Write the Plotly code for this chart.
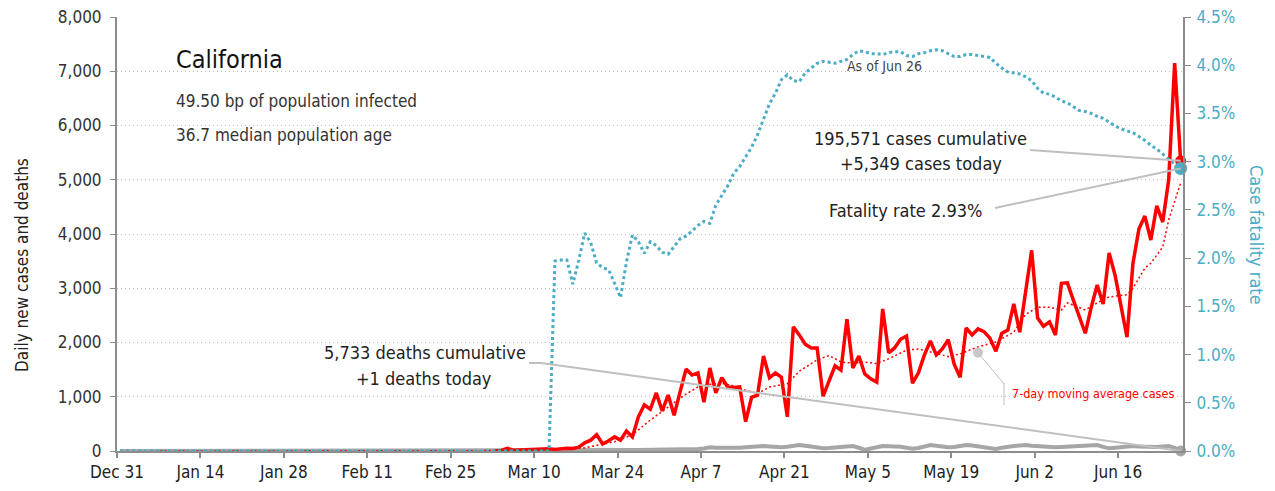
import plotly.graph_objects as go
import pandas as pd

# ---------------- data ----------------
origin = pd.Timestamp("2019-12-31")
tick_days = [0, 14, 28, 42, 56, 70, 84, 98, 112, 126, 140, 154, 168]
tick_labels = ["Dec 31", "Jan 14", "Jan 28", "Feb 11", "Feb 25", "Mar 10", "Mar 24",
               "Apr 7", "Apr 21", "May 5", "May 19", "Jun 2", "Jun 16"]

# daily new cases, starting at day 63 (days since Dec 31)
cases_start = 63
cases = [5, 10, 50, 15, 20, 25, 20, 30, 35, 40,
         30, 45, 50, 45, 70, 150, 200, 300, 130, 190,
         260, 200, 370, 260, 630, 850, 770, 1070, 740, 1030,
         660, 1090, 1510, 1400, 1440, 900, 1530, 1070, 1350, 1180,
         1170, 1180, 540, 990, 1030, 1750, 1350, 1440, 1360, 630,
         2290, 2140, 1970, 1900, 1900, 1010, 1270, 1570, 1490, 2430,
         1530, 1750, 1420, 1330, 1270, 2620, 1810, 1900, 2060, 2120,
         1250, 1440, 1770, 2030, 1770, 1880, 2050, 1600, 1360, 2270,
         2140, 2250, 2200, 2080, 1840, 2170, 2230, 2710, 2190, 2950,
         3700, 2450, 2300, 2380, 2140, 3090, 3100, 2780, 2470, 2170,
         2650, 3060, 2710, 3650, 3240, 2650, 2100, 3460, 4090, 4330,
         3890, 4520, 4220, 5000, 7150, 5349]

# 7-day moving average of cases (read at selected days)
ma_days = [6, 60, 70, 76, 78, 80, 83, 86, 89, 92,
           95, 97, 99, 101, 103, 105, 107, 109, 112, 114,
           117, 119, 121, 123, 125, 127, 129, 132, 134, 137,
           139, 141, 144, 147, 150, 152, 154, 156, 158, 159,
           162, 164, 166, 169, 170, 172, 173, 175, 176, 178]
ma_vals = [0, 5, 25, 40, 60, 100, 170, 300, 570, 810,
           1050, 1180, 1230, 1250, 1200, 1120, 1060, 1180, 1240, 1470,
           1680, 1760, 1640, 1620, 1640, 1610, 1700, 1860, 1880, 1800,
           1740, 1790, 1920, 2010, 2190, 2520, 2650, 2650, 2600, 2730,
           2600, 2730, 2840, 2880, 3000, 3370, 3460, 3760, 4260, 4940]

# daily deaths, starting at day 0
deaths = [0, 0, 0, 0, 0, 0, 0, 0, 0, 0,
          0, 0, 0, 0, 0, 0, 0, 0, 0, 0,
          0, 0, 0, 0, 0, 0, 0, 0, 0, 0,
          0, 0, 0, 0, 0, 0, 0, 0, 0, 0,
          0, 0, 0, 0, 0, 0, 0, 0, 0, 0,
          0, 0, 0, 0, 0, 0, 0, 0, 0, 0,
          0, 0, 0, 0, 0, 0, 0, 0, 0, 0,
          0, 0, 0, 0, 0, 0,
          2, 3, 5, 6, 8, 8, 10, 10, 12, 15,
          18, 20, 20, 22, 25, 25, 28, 30, 30, 32,
          34, 35, 45, 70, 62, 58, 55, 58, 62, 70,
          78, 85, 90, 82, 75, 68, 80, 95, 110, 95,
          75, 55, 50, 55, 62, 68, 80, 90, 60, 20,
          45, 75, 90, 88, 85, 80, 60, 40, 55, 85,
          110, 95, 80, 68, 75, 95, 110, 100, 85, 65,
          48, 37, 60, 80, 92, 100, 110, 95, 85, 75,
          68, 70, 75, 80, 80, 85, 95, 105, 110, 75,
          49, 60, 75, 85, 92, 85, 75, 68, 72, 82,
          92, 60, 1]

# case fatality rate (%), starting at day 0
cfr = [0, 0, 0, 0, 0, 0, 0, 0, 0, 0,
       0, 0, 0, 0, 0, 0, 0, 0, 0, 0,
       0, 0, 0, 0, 0, 0, 0, 0, 0, 0,
       0, 0, 0, 0, 0, 0, 0, 0, 0, 0,
       0, 0, 0, 0, 0, 0, 0, 0, 0, 0,
       0, 0, 0, 0, 0, 0, 0, 0, 0, 0,
       0, 0, 0, 0, 0, 0, 0, 0, 0, 0,
       0, 0, 0,
       1.97, 1.98, 1.98, 1.73, 1.98, 2.26, 2.16, 1.95, 1.90, 1.88,
       1.74, 1.59, 1.96, 2.24, 2.17, 2.05, 2.17, 2.13, 2.06, 2.04,
       2.12, 2.20, 2.23, 2.28, 2.34, 2.38, 2.36, 2.55, 2.65, 2.75,
       2.88, 2.95, 3.05, 3.15, 3.28, 3.43, 3.60, 3.71, 3.85, 3.90,
       3.84, 3.83, 3.92, 3.97, 4.02, 4.04, 4.03, 4.02, 4.04, 4.06,
       4.11, 4.15, 4.14, 4.12, 4.12, 4.11, 4.13, 4.14, 4.14, 4.10,
       4.09, 4.12, 4.13, 4.15, 4.16, 4.15, 4.12, 4.09, 4.09, 4.11,
       4.11, 4.10, 4.09, 4.08, 4.02, 3.97, 3.93, 3.92, 3.91, 3.88,
       3.84, 3.76, 3.71, 3.70, 3.67, 3.63, 3.61, 3.57, 3.53, 3.52,
       3.50, 3.47, 3.45, 3.41, 3.37, 3.34, 3.32, 3.30, 3.26, 3.22,
       3.17, 3.13, 3.08, 3.02, 2.98, 2.93]

ma_label_anchor = (144, 1810)   # grey dot for the moving-average label

# ---------------- styling ----------------
FONT = "DejaVu Sans Condensed, Liberation Sans Narrow, DejaVu Sans, sans-serif"
RED = "#FF0000"
TEAL = "#4BACC6"
GREY = "#A6A6A6"
LEAD = "#BFBFBF"
AXC = "#8C8C8C"

OFF = 8                      # page offset of the figure (body margin)
W, H = 1275 - OFF, 491 - OFF
L, R, T, B = 117, 1183, 17, 451   # plot area in page pixels
X_SPAN_DAYS = 178.9


def day(d):
    return origin + pd.Timedelta(hours=24 * d + 12)


def px2date(px):
    return origin + pd.Timedelta(days=(px - L) / (R - L) * X_SPAN_DAYS)


def py2val(py):
    return (B - py) / (B - T) * 8000


def px2paper(px):
    return (px - L) / (R - L)


def py2paper(py):
    return (B - py) / (B - T)


cases_x = [day(cases_start + i) for i in range(len(cases))]
deaths_x = [day(i) for i in range(len(deaths))]
cfr_x = [day(i) for i in range(len(cfr))]
ma_x = [day(d) for d in ma_days]

fig = go.Figure()
fig.add_trace(go.Scatter(x=deaths_x, y=deaths, mode="lines",
                         line=dict(color=GREY, width=4), hoverinfo="skip"))
fig.add_trace(go.Scatter(x=cases_x, y=cases, mode="lines",
                         line=dict(color=RED, width=3.5), hoverinfo="skip"))
fig.add_trace(go.Scatter(x=ma_x, y=ma_vals, mode="lines",
                         line=dict(color=RED, width=1.5, dash="2px,2.5px"), hoverinfo="skip"))
# end markers
fig.add_trace(go.Scatter(x=[deaths_x[-1]], y=[deaths[-1]], mode="markers",
                         marker=dict(color=GREY, size=11), hoverinfo="skip", cliponaxis=False))
fig.add_trace(go.Scatter(x=[cases_x[-1]], y=[cases[-1]], mode="markers",
                         marker=dict(color=RED, size=11), hoverinfo="skip", cliponaxis=False))
fig.add_trace(go.Scatter(x=[day(ma_label_anchor[0])], y=[ma_label_anchor[1]], mode="markers",
                         marker=dict(color="#C8C8C8", size=10), hoverinfo="skip"))
fig.add_trace(go.Scatter(x=cfr_x, y=cfr, mode="lines", yaxis="y2",
                         line=dict(color=TEAL, width=3, dash="3px,3px"), hoverinfo="skip"))
fig.add_trace(go.Scatter(x=[cfr_x[-1]], y=[cfr[-1]], mode="markers", yaxis="y2",
                         marker=dict(color=TEAL, size=13), hoverinfo="skip", cliponaxis=False))

shapes = []
# leader lines
shapes.append(dict(type="line", xref="x", yref="y", x0=px2date(1030), y0=py2val(150),
                   x1=cases_x[-1], y1=cases[-1], line=dict(color=LEAD, width=2)))
shapes.append(dict(type="line", xref="x", yref="y2", x0=px2date(995), y0=(B - 208) / (B - T) * 4.5,
                   x1=cfr_x[-1], y1=cfr[-1], line=dict(color=LEAD, width=2)))
shapes.append(dict(type="line", xref="x", yref="y", x0=px2date(529), y0=py2val(363),
                   x1=px2date(541), y1=py2val(363), line=dict(color=LEAD, width=2)))
shapes.append(dict(type="line", xref="x", yref="y", x0=px2date(541), y0=py2val(363),
                   x1=deaths_x[-1], y1=deaths[-1], line=dict(color=LEAD, width=2)))
shapes.append(dict(type="line", xref="x", yref="y", x0=day(ma_label_anchor[0]), y0=ma_label_anchor[1],
                   x1=px2date(1004), y1=py2val(384), line=dict(color=LEAD, width=1)))
shapes.append(dict(type="line", xref="x", yref="y", x0=px2date(1004), y0=py2val(383),
                   x1=px2date(1004), y1=py2val(405), line=dict(color=LEAD, width=1)))


def ann(text, px, py, size, color="#222", xanchor="left", angle=0):
    return dict(text=text, x=px2paper(px), y=py2paper(py), xref="paper", yref="paper",
                xanchor=xanchor, yanchor="middle", showarrow=False, textangle=angle,
                font=dict(family=FONT, size=size, color=color))


annotations = [
    ann("California", 174, 60, 25, "#111"),
    ann("49.50 bp of population infected", 174, 101, 17, "#333"),
    ann("36.7 median population age", 174, 135, 17, "#333"),
    ann("As of Jun 26", 884, 66, 14, "#444", "center"),
    ann("195,571 cases cumulative", 920, 138, 18, "#222", "center"),
    ann("+5,349 cases today", 921, 163, 18, "#222", "center"),
    ann("Fatality rate 2.93%", 905, 211, 18, "#222", "center"),
    ann("5,733 deaths cumulative", 425, 352, 18, "#222", "center"),
    ann("+1 deaths today", 424, 378, 18, "#222", "center"),
    ann("7-day moving average cases", 1010, 393, 12.5, RED),
    ann("Daily new cases and deaths", 22, 265, 17, "#222", "center", -90),
    ann("Case fatality rate", 1256, 235, 18, TEAL, "center", 90),
]

fig.update_layout(
    width=W, height=H,
    margin=dict(l=L - OFF, r=W - (R - OFF), t=T - OFF, b=H - (B - OFF)),
    paper_bgcolor="white", plot_bgcolor="white",
    showlegend=False,
    font=dict(family=FONT, size=17, color="#333"),
    shapes=shapes,
    annotations=annotations,
    xaxis=dict(
        range=[origin, origin + pd.Timedelta(days=X_SPAN_DAYS)],
        tickvals=[origin + pd.Timedelta(days=d) for d in tick_days],
        ticktext=tick_labels,
        ticks="outside", ticklen=5, tickcolor=AXC, tickwidth=1.5,
        showline=True, linecolor=AXC, linewidth=1.5,
        showgrid=False, zeroline=False, automargin=False,
        ticklabeloverflow="allow",
        tickfont=dict(family=FONT, size=17, color="#222"),
    ),
    yaxis=dict(
        range=[0, 8000], dtick=1000, tickformat=",",
        showgrid=True, gridcolor="#BDBDBD", griddash="1px,3px", gridwidth=1,
        showline=True, linecolor=AXC, linewidth=2,
        ticks="outside", ticklen=5, tickcolor=AXC,
        zeroline=False, automargin=False, ticklabelstandoff=5,
        ticklabeloverflow="allow",
        tickfont=dict(family=FONT, size=17, color="#333"),
    ),
    yaxis2=dict(
        overlaying="y", side="right", range=[0, 4.5], dtick=0.5,
        tickformat=".1f", ticksuffix="%",
        showgrid=False, zeroline=False, automargin=False,
        showline=True, linecolor=AXC, linewidth=2,
        ticks="outside", ticklen=6, tickcolor=AXC, ticklabelstandoff=2,
        ticklabeloverflow="allow",
        tickfont=dict(family=FONT, size=17, color=TEAL),
    ),
)

fig.write_html("out.html")
